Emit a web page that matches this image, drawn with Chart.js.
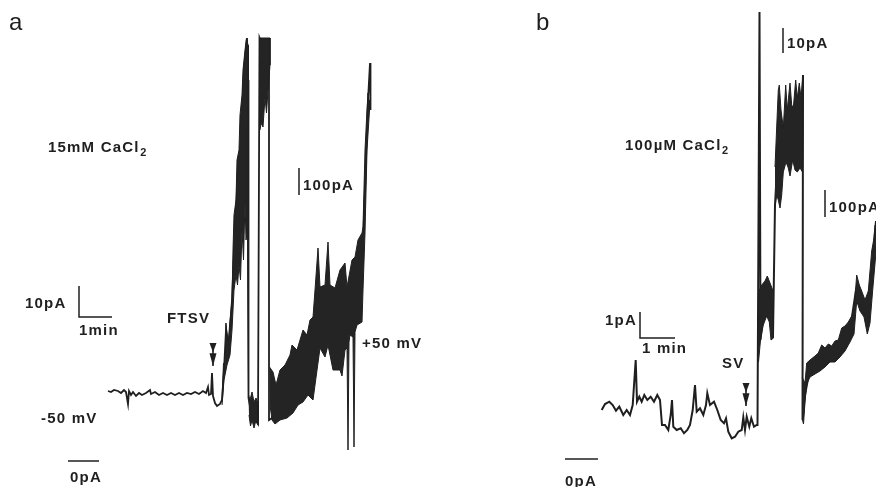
<!DOCTYPE html>
<html>
<head>
<meta charset="utf-8">
<script src="https://cdn.jsdelivr.net/npm/chart.js@4.4.1/dist/chart.umd.min.js"></script>
<style>
    html, body { margin: 0; padding: 0; background: #ffffff; }
    #traces { display: block; }
</style>
</head>
<body>
<canvas id="traces" width="876" height="487"></canvas>
<script>
// trace readings, [time, current] in plot units (y grows downward like the paper record)
const traceA = [
    [108, 391], [111, 392], [114, 390], [118, 391], [121, 393], [124, 390], [126, 392], [128, 404], [129, 391],
    [131, 395], [133, 392], [136, 396], [139, 393], [142, 395], [146, 393], [150, 390], [151, 394], [155, 392],
    [159, 395], [163, 393], [167, 395], [171, 393], [175, 395], [179, 393], [183, 395], [187, 393], [191, 394],
    [195, 392], [199, 394], [203, 391], [206, 393], [208, 387], [209, 395], [211, 394], [212, 373], [213, 396],
    [215, 403], [217, 406], [220, 404], [222, 400], [224, 370], [226, 330], [229, 345], [232, 300], [235, 230],
    [238, 170], [241, 140], [244, 70], [247, 38], [248, 80], [248.5, 398], [251, 412], [254, 418], [258, 424],
    [259.5, 38], [262, 45], [266, 60], [269, 60], [269, 420], [272, 418], [280, 405], [290, 390], [300, 375],
    [310, 360], [315, 330], [320, 315], [330, 310], [340, 310], [345, 305], [350, 290], [357, 280], [362, 270],
    [365, 190], [368, 100], [370, 63], [370.5, 110]
];

// noisy stretches of trace a, drawn as filled envelopes (upper edge out, lower edge back)
const bandA1 = [
    [222, 400], [223.5, 363], [225, 372], [226, 323], [228, 345], [230, 320], [232, 300], [233, 250], [234, 215],
    [236, 200], [237, 160], [239, 150], [240, 115], [242, 95], [243, 70], [245, 50], [246.5, 38], [248, 45],
    [248.5, 397], [247.5, 230], [246, 240], [245, 200], [243.5, 260], [242, 230], [240.5, 280], [239, 265],
    [237.5, 285], [236, 275], [234, 290], [232, 330], [230, 355], [227, 365], [224, 380], [222, 405]
];
const bandA2 = [
    [248.5, 395], [250, 400], [252, 392], [254, 402], [256, 398], [258, 404],
    [258, 425], [256, 420], [254, 428], [252, 420], [250.5, 426], [249, 415]
];
const bandA3 = [
    [260, 38], [270, 38], [270, 65], [268, 90], [266.5, 113], [265, 97], [263, 127], [261, 123], [260, 130]
];
const bandA4 = [
    [269.5, 367], [273, 372], [276, 385], [280, 370], [285, 365], [290, 355], [292, 345], [297, 350], [303, 330],
    [307, 335], [310, 320], [313, 317], [315, 290], [318, 248], [320, 287], [325, 285], [328, 242], [330, 285],
    [335, 288], [340, 270], [345, 263], [347, 287], [352, 260], [355, 257], [358, 240], [362, 233], [363, 227],
    [365, 150], [367, 110], [368, 93], [369, 100],
    [369.5, 110], [367, 150], [365, 233], [363, 290], [362, 322], [357, 325], [355, 332], [354, 447], [353, 337],
    [350, 335], [349, 342], [348, 450], [347, 348], [345, 350], [342, 376], [340, 370], [333, 370], [328, 345],
    [325, 357], [320, 348], [315, 385], [313, 400], [308, 395], [303, 402], [298, 405], [293, 413], [287, 418],
    [280, 420], [275, 424], [272, 420], [270, 405]
];

const traceB = [
    [601.7, 410], [605, 404], [609.3, 401.7], [612.7, 405], [616, 410.7], [619.3, 406.7], [623.3, 415], [626.7, 410],
    [630, 415], [632.7, 405], [635.7, 360], [637, 401.7], [639.3, 396.7], [641.7, 401.7], [644.3, 395], [647.3, 400],
    [650.7, 396.7], [654, 401.7], [657.3, 395], [660, 400], [662, 425], [665, 425], [668.3, 430], [670.7, 415],
    [672, 400], [673.3, 426.7], [676.7, 430], [680.7, 428.3], [684, 433.3], [687.3, 430], [690, 425], [692.7, 410],
    [695, 385], [696.7, 411.7], [700, 408.3], [703.3, 415], [706, 405], [707.3, 393.3], [710, 405], [714, 401.7],
    [717.3, 410], [720.7, 420], [724, 423.3], [726, 418.3], [728.3, 431.7], [731.7, 438.3], [735, 436.7],
    [738.3, 431.7], [741.7, 430], [743.3, 417.3], [745, 430], [746.7, 416.7], [749.3, 426.7], [751.3, 418.3],
    [754, 426.7], [756.7, 425], [757.5, 425], [759.5, 12], [760.5, 340], [765, 300], [770, 300], [773, 336],
    [775, 205], [778, 150], [785, 130], [795, 120], [802, 110], [803, 75], [802.5, 420], [805, 395], [810, 368],
    [820, 358], [830, 352], [840, 345], [850, 330], [856, 290], [862, 300], [867, 312], [872, 270], [875.5, 225]
];

const bandB1 = [
    [757.5, 357], [758.5, 300], [759.5, 290], [761.7, 285], [765, 281], [767.3, 276], [770, 283], [772.7, 290],
    [773.5, 338], [771, 340], [769.3, 322], [766.7, 316], [763.3, 325], [760.7, 338], [758.5, 362]
];
const bandB2 = [
    [775, 167], [776.7, 127], [778.3, 90], [779.3, 85], [781, 110], [783.3, 128], [785.7, 85], [787.3, 110],
    [790, 83], [791.7, 105], [793.3, 108], [795.7, 80], [797.3, 98], [799.3, 83], [801, 98], [803, 75],
    [802.5, 172], [800, 168], [797.3, 172], [795, 170], [792.7, 160], [790, 176], [788.3, 168], [786, 162],
    [783.3, 172], [781.7, 195], [780, 208], [778.3, 200], [776.7, 195], [775, 207]
];
const bandB3 = [
    [802, 377], [805, 383], [806.7, 363], [810, 360], [815, 356], [818.3, 353], [821.7, 345], [825, 348],
    [828.3, 344], [831.7, 346], [835, 341], [838.3, 340], [841.7, 328], [845, 326], [848.3, 322], [851.7, 316],
    [854, 311], [856.7, 275], [859.3, 285], [861.7, 291], [865, 300], [868.3, 291], [871.7, 251], [874, 238],
    [875.5, 221],
    [876, 252], [872.7, 290], [870, 323], [867.3, 334], [864, 317], [860, 311], [856.7, 301], [854, 334],
    [850, 342], [845, 351], [840, 357], [835, 362], [830, 362], [825, 367], [820, 371], [815, 374], [810, 377],
    [806.7, 384], [805, 402], [803.5, 424], [802.5, 420]
];

// calibration bars
const scaleBars = [
    [[79, 286], [79, 317], [112, 317]],
    [[299, 168], [299, 195]],
    [[68, 461], [99, 461]],
    [[640, 312], [640, 338], [675, 338]],
    [[783, 28], [783, 53]],
    [[825, 190], [825, 217]],
    [[565, 459], [598, 459]]
];

// application arrows (x, top, bottom)
const arrows = [[213, 343, 366], [746, 383, 406]];

const labels = [
    { text: 'a', x: 9, y: 30, size: 24, weight: 'normal', spacing: 0 },
    { text: 'b', x: 536, y: 30, size: 24, weight: 'normal', spacing: 0 },
    { text: '15mM CaCl', sub: '2', x: 48, y: 152 },
    { text: '100pA', x: 303, y: 190 },
    { text: '10pA', x: 25, y: 308 },
    { text: '1min', x: 79, y: 335 },
    { text: 'FTSV', x: 167, y: 323 },
    { text: '+50 mV', x: 362, y: 348 },
    { text: '-50 mV', x: 41, y: 423 },
    { text: '0pA', x: 70, y: 482 },
    { text: '100µM CaCl', sub: '2', x: 625, y: 150 },
    { text: '10pA', x: 787, y: 48 },
    { text: '100pA', x: 829, y: 212 },
    { text: '1pA', x: 605, y: 325 },
    { text: '1 min', x: 642, y: 353 },
    { text: 'SV', x: 722, y: 368 },
    { text: '0pA', x: 565, y: 486 }
];

const INK = '#1f1f1f';
const FONT = '"Liberation Sans", Arial, sans-serif';
const toXY = arr => arr.map(p => ({ x: p[0], y: p[1] }));

function traceSet(pts, width) {
    return { data: toXY(pts), borderColor: INK, borderWidth: width, fill: false, pointRadius: 0, tension: 0 };
}
function bandSet(pts) {
    return { data: toXY(pts), borderColor: INK, backgroundColor: '#242424', borderWidth: 1, fill: 'shape', pointRadius: 0, tension: 0 };
}

const datasets = [];
[bandA1, bandA2, bandA3, bandA4, bandB1, bandB2, bandB3].forEach(b => datasets.push(bandSet(b)));
datasets.push(traceSet(traceA, 1.8));
datasets.push(traceSet(traceB, 2));
scaleBars.forEach(s => datasets.push(traceSet(s, 1.5)));

const annotate = {
    id: 'annotate',
    afterDatasetsDraw(chart) {
        const { ctx, scales: { x, y } } = chart;
        ctx.save();
        ctx.fillStyle = INK;
        ctx.strokeStyle = INK;
        ctx.textBaseline = 'alphabetic';
        labels.forEach(l => {
            const px = x.getPixelForValue(l.x);
            const py = y.getPixelForValue(l.y);
            ctx.font = `${l.weight || 'bold'} ${l.size || 15}px ${FONT}`;
            ctx.letterSpacing = `${l.spacing !== undefined ? l.spacing : 1.2}px`;
            ctx.fillText(l.text, px, py);
            if (l.sub) {
                const w = ctx.measureText(l.text).width;
                ctx.font = `bold 11px ${FONT}`;
                ctx.fillText(l.sub, px + w + 0.5, py + 4);
            }
        });
        arrows.forEach(([ax, top, bot]) => {
            const px = x.getPixelForValue(ax);
            const t = y.getPixelForValue(top);
            const b = y.getPixelForValue(bot);
            const h = b - t;
            ctx.lineWidth = 1.6;
            ctx.beginPath();
            ctx.moveTo(px, t);
            ctx.lineTo(px, b);
            ctx.stroke();
            [[t, t + h * 0.4], [t + h * 0.45, b]].forEach(([a, c]) => {
                ctx.beginPath();
                ctx.moveTo(px - 3.5, a);
                ctx.lineTo(px + 3.5, a);
                ctx.lineTo(px, c);
                ctx.closePath();
                ctx.fill();
            });
        });
        ctx.restore();
    }
};

new Chart(document.getElementById('traces'), {
    type: 'line',
    data: { datasets },
    options: {
        responsive: false,
        animation: false,
        layout: { padding: 0 },
        plugins: { legend: { display: false }, tooltip: { enabled: false } },
        scales: {
            x: { type: 'linear', min: 0, max: 876, display: false },
            y: { type: 'linear', min: 0, max: 487, reverse: true, display: false }
        }
    },
    plugins: [annotate]
});
</script>
</body>
</html>
